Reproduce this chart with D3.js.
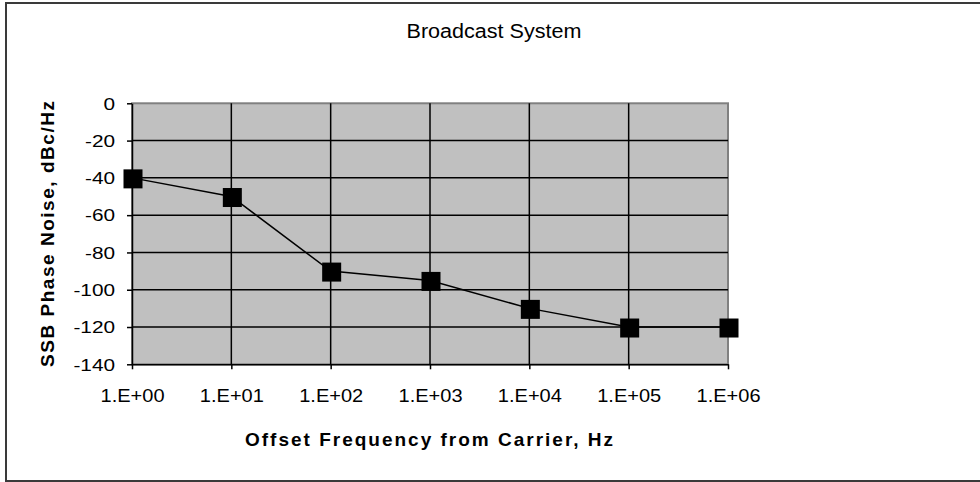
<!DOCTYPE html>
<html>
<head>
<meta charset="utf-8">
<script src="https://cdn.jsdelivr.net/npm/d3@7"></script>
<style>
body { margin: 0; background: #fff; }
svg text { font-family: Arial, "Liberation Sans", sans-serif; fill: #000; }
</style>
</head>
<body>
<svg id="chart" width="980" height="482"></svg>
<script>
// values
var freqs = [1, 10, 100, 1000, 10000, 100000, 1000000];
var noise = [-40, -50, -90, -95, -110, -120, -120];
var y_ticks = [0, -20, -40, -60, -80, -100, -120, -140];
var x_tick_labels = ["1.E+00", "1.E+01", "1.E+02", "1.E+03", "1.E+04", "1.E+05", "1.E+06"];

var title = "Broadcast System";
var x_title = "Offset Frequency from Carrier, Hz";
var y_title = "SSB Phase Noise, dBc/Hz";

var svg = d3.select("#chart");

var plot = {left: 132, right: 728, top: 103.3, bottom: 364.3};

var x = d3.scaleLog()
    .domain([1, 1000000])
    .range([plot.left, plot.right]);

var y = d3.scaleLinear()
    .domain([0, -140])
    .range([plot.top, plot.bottom]);

// outer chart border
svg.append("rect")
    .attr("x", 6).attr("y", 3)
    .attr("width", 990).attr("height", 478)
    .attr("fill", "none")
    .attr("stroke", "#3a3a3a")
    .attr("stroke-width", 2);

// plot area
svg.append("rect")
    .attr("x", plot.left).attr("y", plot.top)
    .attr("width", plot.right - plot.left)
    .attr("height", plot.bottom - plot.top)
    .attr("fill", "#c0c0c0")
    .attr("stroke", "#808080")
    .attr("stroke-width", 2);

// gridlines
svg.append("g").selectAll("line.h")
    .data(y_ticks.slice(1, -1))
    .join("line")
    .attr("x1", plot.left).attr("x2", plot.right)
    .attr("y1", function(d){ return y(d); })
    .attr("y2", function(d){ return y(d); })
    .attr("stroke", "#000").attr("stroke-width", 1.5);

svg.append("g").selectAll("line.v")
    .data(freqs.slice(1, -1))
    .join("line")
    .attr("x1", function(d){ return x(d); })
    .attr("x2", function(d){ return x(d); })
    .attr("y1", plot.top).attr("y2", plot.bottom)
    .attr("stroke", "#000").attr("stroke-width", 1.5);

// axes
var y_axis = d3.axisLeft(y)
    .tickValues(y_ticks)
    .tickSize(5)
    .tickSizeOuter(0)
    .tickFormat(function(d){ return d; });

var gy = svg.append("g")
    .attr("transform", "translate(" + plot.left + ",0)")
    .call(y_axis);

var ysx = 1.3;
gy.selectAll("text")
    .attr("font-size", 16)
    .attr("font-family", null)
    .attr("x", -17 / ysx)
    .attr("dy", "0.36em")
    .attr("transform", "scale(" + ysx + ",1)");

var x_axis = d3.axisBottom(x)
    .tickValues(freqs)
    .tickSize(5)
    .tickSizeOuter(0)
    .tickFormat(function(d, i){ return x_tick_labels[i]; });

var gx = svg.append("g")
    .attr("transform", "translate(0," + plot.bottom + ")")
    .call(x_axis);

gx.selectAll("text")
    .attr("font-size", 18.5)
    .attr("font-family", null)
    .attr("y", 37.4)
    .attr("dy", null)
    .attr("transform", "scale(1.09,1)")
    .attr("x", function(){ return 0; });

// keep the scaled labels centered on their ticks
gx.selectAll(".tick").each(function(d){
    var t = d3.select(this);
    t.select("text").attr("transform", null)
        .attr("textLength", 64)
        .attr("lengthAdjust", "spacingAndGlyphs");
});

[gx, gy].forEach(function(g){
    g.select(".domain").attr("stroke", "#000").attr("stroke-width", 1.5);
    g.selectAll(".tick line").attr("stroke", "#000").attr("stroke-width", 1.5);
});

// series line and markers
var line = d3.line()
    .x(function(d, i){ return x(freqs[i]); })
    .y(function(d){ return y(d); });

svg.append("path")
    .datum(noise)
    .attr("d", line)
    .attr("fill", "none")
    .attr("stroke", "#000")
    .attr("stroke-width", 1.5);

var m = 19;
svg.append("g").selectAll("rect")
    .data(noise)
    .join("rect")
    .attr("x", function(d, i){ return x(freqs[i]) - m / 2 + 1; })
    .attr("y", function(d){ return y(d) - m / 2 + 1; })
    .attr("width", m).attr("height", m)
    .attr("fill", "#000");

// titles
svg.append("text")
    .attr("x", 494).attr("y", 37.7)
    .attr("text-anchor", "middle")
    .attr("font-size", 20)
    .attr("textLength", 175)
    .attr("lengthAdjust", "spacingAndGlyphs")
    .text(title);

svg.append("text")
    .attr("x", 429).attr("y", 445.7)
    .attr("text-anchor", "middle")
    .attr("font-size", 19)
    .attr("font-weight", "bold")
    .attr("textLength", 368)
    .attr("lengthAdjust", "spacing")
    .text(x_title);

svg.append("text")
    .attr("transform", "translate(54,234) rotate(-90)")
    .attr("text-anchor", "middle")
    .attr("font-size", 19)
    .attr("font-weight", "bold")
    .attr("textLength", 266)
    .attr("lengthAdjust", "spacing")
    .text(y_title);
</script>
</body>
</html>
